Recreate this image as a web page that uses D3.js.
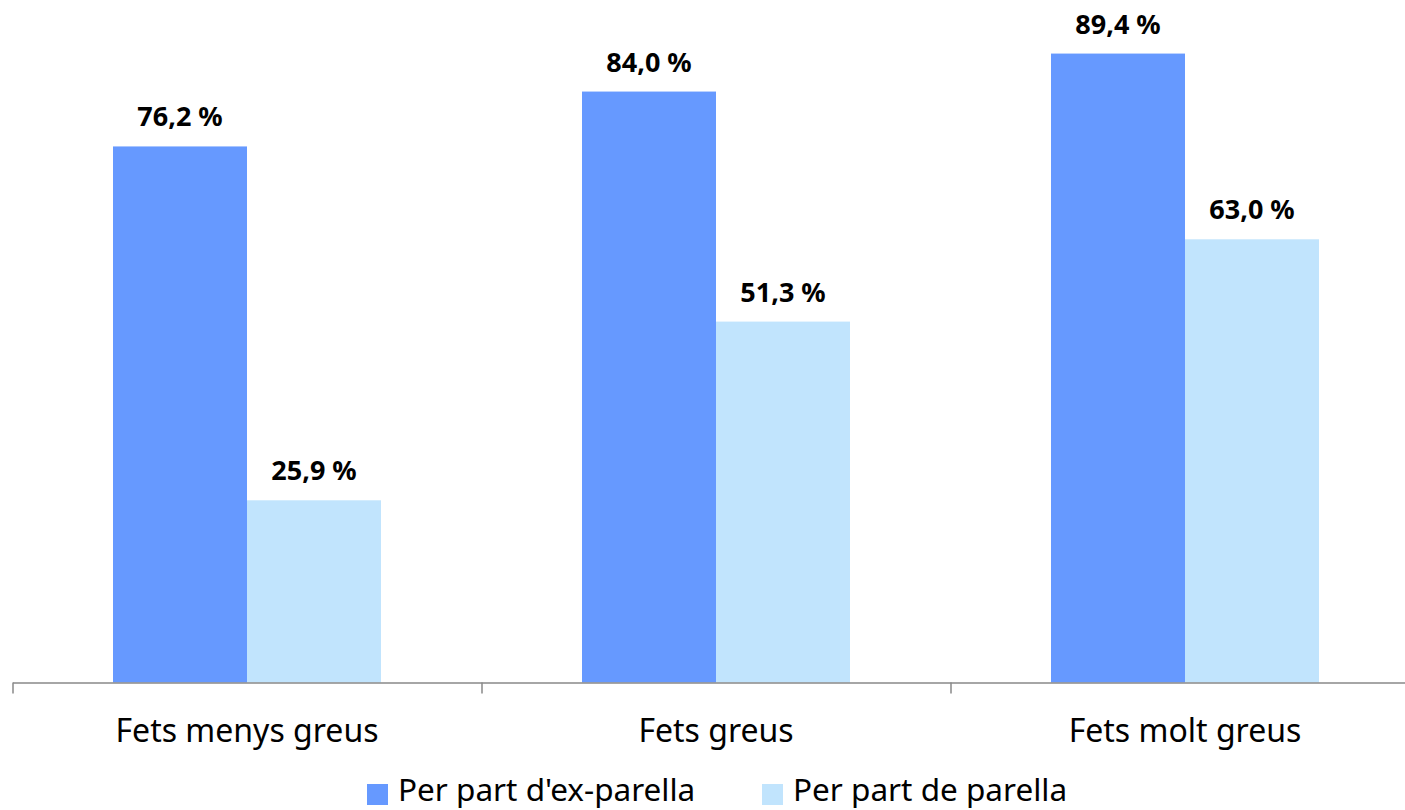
<!DOCTYPE html>
<html>
<head>
<meta charset="utf-8">
<script src="https://cdn.jsdelivr.net/npm/d3@7"></script>
<style>
body { margin: 0; background: #fff; }
svg { display: block; font-family: "Noto Sans", sans-serif; }
</style>
</head>
<body>
<div id="chart"></div>
<script>
var categories = ["Fets menys greus", "Fets greus", "Fets molt greus"];
var series_names = ["Per part d'ex-parella", "Per part de parella"];
var ex_parella = [76.2, 84.0, 89.4];
var parella = [25.9, 51.3, 63.0];
var colors = ["#6699FF", "#C1E4FD"];

var width = 1405,
height = 810,
baseline = 682.5;

var svg = d3.select("#chart")
.append("svg")
.attr("width", width)
.attr("height", height);

var xScale = d3.scaleBand()
.domain(categories)
.range([12.5, 1419.5])
.paddingInner(0)
.paddingOuter(0);

var innerScale = d3.scaleBand()
.domain([0, 1])
.range([0, xScale.bandwidth()])
.paddingOuter(0.75)
.paddingInner(0);

var yScale = d3.scaleLinear()
.domain([0, 100])
.range([baseline, baseline - 703.5]);

var data = [];
categories.forEach(function(c, i) {
	data.push({cat: c, s: 0, value: ex_parella[i]});
	data.push({cat: c, s: 1, value: parella[i]});
});

svg.selectAll("rect.bar")
.data(data)
.enter()
.append("rect")
.attr("class", "bar")
.attr("x", function(d) { return xScale(d.cat) + innerScale(d.s); })
.attr("y", function(d) { return yScale(d.value); })
.attr("width", innerScale.bandwidth())
.attr("height", function(d) { return baseline - yScale(d.value); })
.attr("fill", function(d) { return colors[d.s]; });

svg.selectAll("text.value_text")
.data(data)
.enter()
.append("text")
.attr("class", "value_text")
.attr("x", function(d) { return xScale(d.cat) + innerScale(d.s) + innerScale.bandwidth() / 2; })
.attr("y", function(d) { return yScale(d.value) - 20; })
.attr("text-anchor", "middle")
.attr("font-size", "27px")
.attr("font-weight", "bold")
.attr("fill", "#000")
.text(function(d) { return d.value.toFixed(1).replace(".", ",") + " %"; });

// axis line with ticks at the band edges
var edgeScale = d3.scaleLinear()
.domain([0, categories.length])
.range(xScale.range());

var edgeAxis = svg.append("g")
.attr("transform", "translate(0," + baseline + ")")
.call(d3.axisBottom(edgeScale)
	.tickValues(d3.range(categories.length + 1))
	.tickSize(11)
	.tickSizeOuter(0)
	.tickFormat(""));
edgeAxis.selectAll("line, path").attr("stroke", "#898989").attr("stroke-width", 1.5);

var catAxis = svg.append("g")
.attr("transform", "translate(0," + baseline + ")")
.call(d3.axisBottom(xScale).tickSize(0).tickPadding(0));
catAxis.select(".domain").remove();
catAxis.selectAll("text")
.attr("y", 59.5)
.attr("dy", null)
.attr("font-size", "32px")
.attr("font-family", "Noto Sans, sans-serif")
.attr("fill", "#000");

// legend
var legendX = [367, 762];
var legend = svg.selectAll("g.legend")
.data(series_names)
.enter()
.append("g")
.attr("class", "legend")
.attr("transform", function(d, i) { return "translate(" + legendX[i] + ",784)"; });

legend.append("rect")
.attr("width", 21)
.attr("height", 21)
.attr("fill", function(d, i) { return colors[i]; });

legend.append("text")
.attr("x", 31)
.attr("y", 17)
.attr("font-size", "31.5px")
.attr("fill", "#000")
.text(function(d) { return d; });
</script>
</body>
</html>
